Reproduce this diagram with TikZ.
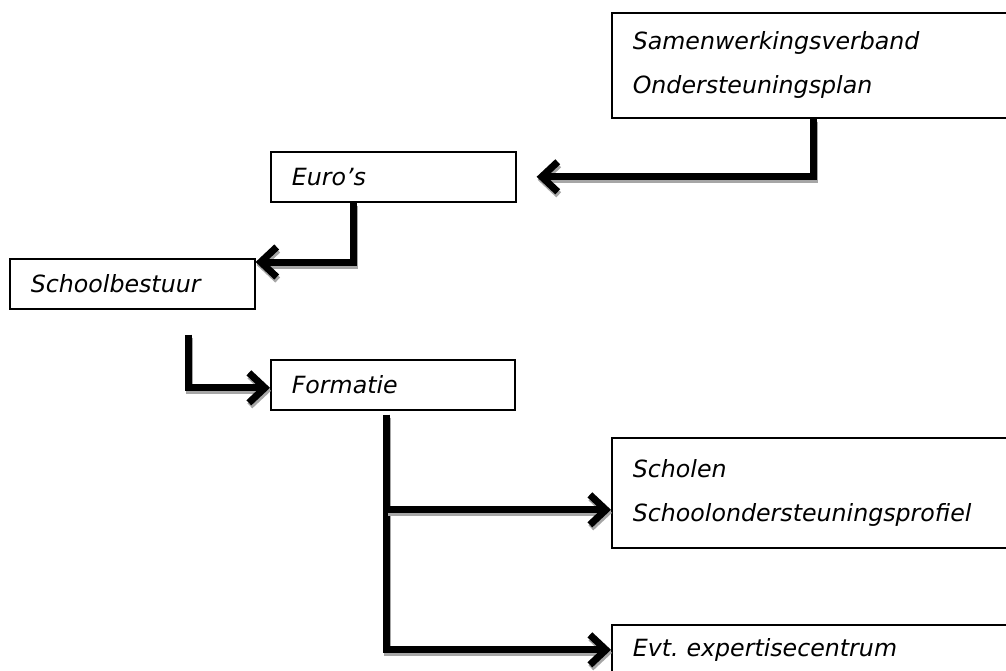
\documentclass[tikz,border=0pt]{standalone}
\usepackage{fontspec}
\setmainfont{DejaVu Sans}
\frenchspacing
\usetikzlibrary{arrows.meta,shadows}
\newcommand{\blok}[6]{\node[blok, text width=#4pt, minimum height=#5pt] (#1) at (#2,#3) {#6};}
\newcommand{\verbind}[2]{\draw[pijl, schaduw] (#1) |- (#2); \draw[pijl] (#1) |- (#2);}
\tikzset{
  blok/.style={draw, line width=1.6pt, anchor=north west, inner xsep=21pt, inner ysep=0pt,
    align=left, fill=white, font=\fontsize{23.7}{44}\selectfont\itshape,
    drop shadow={shadow xshift=1.5pt, shadow yshift=-1.5pt, fill=black!35, opacity=1}},
  pijl/.style={line width=7pt, -{Straight Barb[length=16pt,width=30pt]}},
  schaduw/.style={draw=black!35, transform canvas={xshift=1pt,yshift=-3pt}}
}

\begin{document}
\begin{tikzpicture}[x=1pt,y=-1pt]
    \useasboundingbox (0,0) rectangle (1006,670);
    \clip (0,0) rectangle (1006,670);
    \blok{swv}{611}{12}{362}{105}{Samenwerkingsverband\\Ondersteuningsplan}
    \blok{euro}{270}{151}{203}{50}{Euro’s}
    \blok{bestuur}{9}{258}{203}{50}{Schoolbestuur}
    \blok{formatie}{270}{359}{202}{50}{Formatie}
    \blok{scholen}{611}{437}{362}{110}{Scholen\\Schoolondersteuningsprofiel}
    \blok{evt}{611}{624}{362}{50}{Evt. expertisecentrum}
    \verbind{swv.south}{[xshift=20pt]euro.east}
    \verbind{[xshift=-40pt]euro.south}{[yshift=-4pt]bestuur.north east}
    \verbind{[shift={(56pt,-25pt)}]bestuur.south}{[yshift=-3pt]formatie.west}
    \coordinate (stam) at ([xshift=-6pt,yshift=-4pt]formatie.south);
    \coordinate (tak) at ([yshift=-17pt]scholen.west);
    \verbind{stam}{evt.west}
    \verbind{tak -| stam}{tak}
\end{tikzpicture}
\end{document}
